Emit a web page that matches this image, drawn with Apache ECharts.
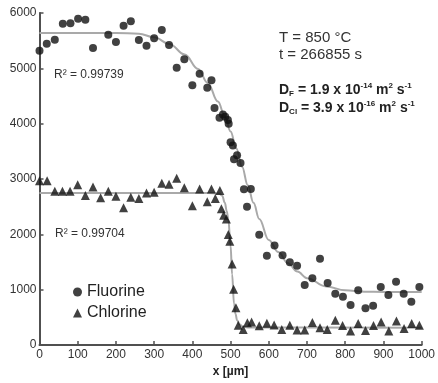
<!DOCTYPE html>
<html>
<head>
<meta charset="utf-8">
<script src="https://cdn.jsdelivr.net/npm/echarts@6/dist/echarts.min.js"></script>
<style>html,body{margin:0;padding:0;background:#fff}#c{width:438px;height:383px}</style>
</head>
<body>
<div id="c"></div>
<script>
// Measured data (x in µm, value)
var fluorineX = [0,19,40,61,81,101,120,140,180,200,220,239,260,280,300,320,339,359,379,400,419,439,450,458,471,480,486,493,495,500,506,509,517,526,535,543,553,575,595,615,636,655,674,694,714,734,754,774,794,814,834,853,873,893,913,933,953,973,994];
var fluorineY = [5320,5446,5517,5805,5817,5894,5876,5368,5605,5474,5770,5853,5510,5410,5545,5694,5421,5009,5163,4696,4903,4650,4784,4283,4106,4165,4124,4065,4000,3664,3605,3357,3428,3290,2815,2501,2820,1995,1616,1800,1623,1499,1434,1085,1209,1558,1120,926,873,726,991,667,713,1050,903,1145,926,784,1050];
var chlorineX = [0,20,40,60,80,100,120,140,160,180,200,220,239,260,280,300,320,339,359,379,400,419,439,450,460,472,476,482,489,494,498,504,508,514,520,533,544,555,575,595,614,634,655,674,694,714,734,753,774,793,814,834,853,874,894,914,934,954,974,994];
var chlorineY = [2970,2970,2779,2779,2779,2897,2702,2855,2660,2779,2690,2483,2672,2650,2749,2761,2926,2908,3014,2845,2516,2820,2590,2820,2650,2791,2465,2348,2278,2000,1876,1464,1009,673,359,283,402,419,350,395,365,283,360,271,271,407,313,283,448,354,254,389,265,354,419,254,437,301,389,359];
// Fit curves
var fluorineFitX = [0,200,260,300,340,380,415,440,467,485,500,515,530,545,560,575,600,625,650,675,700,750,800,850,900,1000];
var fluorineFitY = [5640,5640,5625,5560,5440,5250,4990,4740,4400,4130,3860,3550,3220,2890,2570,2280,1900,1680,1480,1330,1210,1060,990,965,960,960];
var chlorineFitX = [0,440,470,478,485,490,494,500,504,509,513,517,524,532,550,1000];
var chlorineFitY = [2750,2750,2740,2700,2570,2420,2280,1800,1280,750,560,450,370,330,318,315];
var xTicks = [0,100,200,300,400,500,600,700,800,900,1000];
var yTicks = [0,1000,2000,3000,4000,5000,6000];
var r2F = 'R² = 0.99739';
var r2Cl = 'R² = 0.99704';

function zip(a, b) { return a.map(function (v, i) { return [v, b[i]]; }); }
function plain(v) { return String(v); }

var FONT = '"Liberation Sans", Arial, sans-serif';
var chart = echarts.init(document.getElementById('c'));
var axisCol = '#505050';
chart.setOption({
  animation: false,
  backgroundColor: '#fff',
  grid: { left: 39.5, right: 12, top: 13, bottom: 31, containLabel: false },
  xAxis: {
    type: 'value', min: xTicks[0], max: xTicks[xTicks.length - 1], interval: 100,
    name: 'x [µm]', nameLocation: 'middle', nameGap: 20,
    nameTextStyle: { fontFamily: FONT, fontSize: 12, fontWeight: 'bold', color: '#222' },
    axisLine: { show: true, lineStyle: { color: axisCol, width: 2 } },
    axisTick: { show: true, inside: true, length: 4, lineStyle: { color: axisCol, width: 1.5 } },
    axisLabel: { fontFamily: FONT, fontSize: 12, color: '#333', margin: 4, formatter: plain },
    splitLine: { show: false }
  },
  yAxis: {
    type: 'value', min: yTicks[0], max: yTicks[yTicks.length - 1], interval: 1000,
    axisLine: { show: true, lineStyle: { color: axisCol, width: 2 } },
    axisTick: { show: true, inside: true, length: 4, lineStyle: { color: axisCol, width: 1.5 } },
    axisLabel: { fontFamily: FONT, fontSize: 12, color: '#333', margin: 3, formatter: plain },
    splitLine: { show: false }
  },
  legend: {
    orient: 'vertical', left: 73, top: 284, padding: 0, itemGap: 5,
    itemWidth: 9, itemHeight: 9,
    textStyle: { fontFamily: FONT, fontSize: 16, color: '#222' },
    data: [{ name: 'Fluorine', icon: 'circle' }, { name: 'Chlorine', icon: 'triangle' }]
  },
  series: [
    { name: 'FluorineFit', type: 'line', data: zip(fluorineFitX, fluorineFitY), showSymbol: false, smooth: 0.4, smoothMonotone: 'x',
      lineStyle: { color: '#a9a9a9', width: 2 }, z: 1, silent: true },
    { name: 'ChlorineFit', type: 'line', data: zip(chlorineFitX, chlorineFitY), showSymbol: false, smooth: 0.4, smoothMonotone: 'x',
      lineStyle: { color: '#a9a9a9', width: 2 }, z: 1, silent: true },
    { name: 'Fluorine', type: 'scatter', data: zip(fluorineX, fluorineY), symbol: 'circle', symbolSize: 8,
      itemStyle: { color: '#111' }, z: 3 },
    { name: 'Chlorine', type: 'scatter', data: zip(chlorineX, chlorineY), symbol: 'triangle', symbolSize: 9,
      itemStyle: { color: '#111' }, z: 3 }
  ],
  graphic: [
    { type: 'text', x: 54, y: 75, style: { text: r2F, font: '12px ' + FONT, fill: '#333', verticalAlign: 'middle' } },
    { type: 'text', x: 55, y: 234, style: { text: r2Cl, font: '12px ' + FONT, fill: '#333', verticalAlign: 'middle' } },
    { type: 'text', x: 279, y: 38, style: { text: 'T = 850 °C', font: '15px ' + FONT, fill: '#333', verticalAlign: 'middle' } },
    { type: 'text', x: 279, y: 55, style: { text: 't = 266855 s', font: '15px ' + FONT, fill: '#333', verticalAlign: 'middle' } },
    { type: 'text', x: 279, y: 90, style: {
      text: '{b|D}{s|F}{b| = 1.9 x 10}{p|-14}{b| m}{p|2}{b| s}{p|-1}', verticalAlign: 'middle', fill: '#222',
      rich: {
        b: { font: 'bold 14px ' + FONT, fill: '#222', lineHeight: 16 },
        s: { font: 'bold 8px ' + FONT, fill: '#222', verticalAlign: 'bottom', lineHeight: 9 },
        p: { font: 'bold 8px ' + FONT, fill: '#222', verticalAlign: 'top', lineHeight: 9 }
      } } },
    { type: 'text', x: 279, y: 108, style: {
      text: '{b|D}{s|Cl}{b| = 3.9 x 10}{p|-16}{b| m}{p|2}{b| s}{p|-1}', verticalAlign: 'middle', fill: '#222',
      rich: {
        b: { font: 'bold 14px ' + FONT, fill: '#222', lineHeight: 16 },
        s: { font: 'bold 8px ' + FONT, fill: '#222', verticalAlign: 'bottom', lineHeight: 9 },
        p: { font: 'bold 8px ' + FONT, fill: '#222', verticalAlign: 'top', lineHeight: 9 }
      } } }
  ]
});
</script>
</body>
</html>
